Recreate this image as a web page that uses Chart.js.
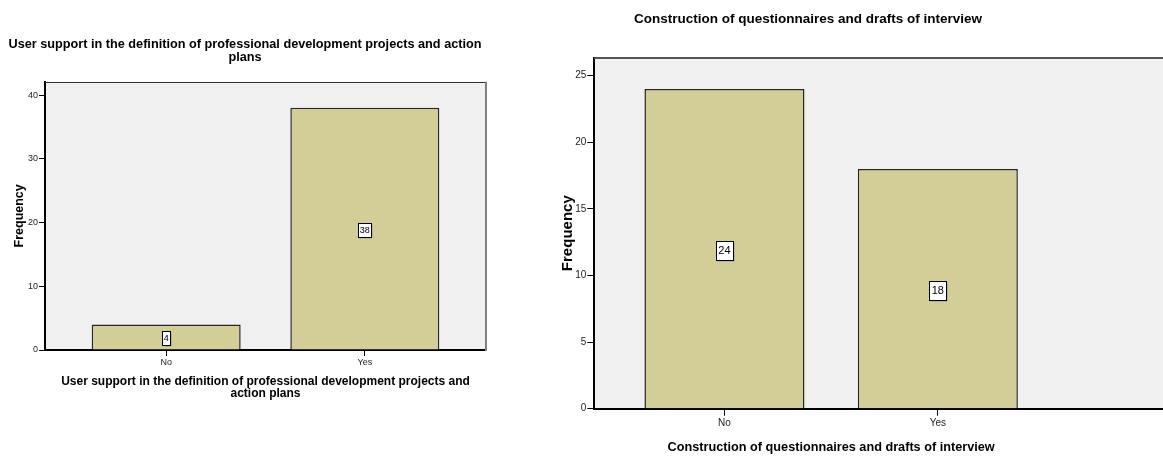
<!DOCTYPE html>
<html>
<head>
<meta charset="utf-8">
<script src="https://cdn.jsdelivr.net/npm/chart.js@4/dist/chart.umd.min.js"></script>
<style>
  html, body { margin: 0; padding: 0; background: #fff; overflow: hidden; }
  body { width: 1163px; height: 457px; position: relative; }
  canvas { position: absolute; top: 0; }
  #chartLeft { left: 0; }
  #chartRight { left: 548px; }
</style>
</head>
<body>
<canvas id="chartLeft" width="500" height="457"></canvas>
<canvas id="chartRight" width="615" height="457"></canvas>
<script>
// data
const categories = ['No', 'Yes'];
const supportCounts = [4, 38];
const questionnaireCounts = [24, 18];
const supportTicks = [0, 10, 20, 30, 40];
const questionnaireTicks = [0, 5, 10, 15, 20, 25];
const supportTitle = ['User support in the definition of professional development projects and action', 'plans'];
const supportAxisTitle = ['User support in the definition of professional development projects and', 'action plans'];
const questionnaireTitle = 'Construction of questionnaires and drafts of interview';
const yAxisTitle = 'Frequency';

const FONT = 'Arial, "Liberation Sans", sans-serif';
const BAR_FILL = '#d3ce97';
const PLOT_BG = '#f0f0f0';

// grey plot background + top / right frame lines
const plotFrame = {
    id: 'plotFrame',
    beforeDraw(chart, args, o) {
        const { ctx, chartArea: a } = chart;
        const right = o.bleed ? chart.width : a.right;
        ctx.save();
        ctx.fillStyle = PLOT_BG;
        ctx.fillRect(a.left, a.top, right - a.left, a.bottom - a.top);
        ctx.restore();
    },
    afterDraw(chart, args, o) {
        const { ctx, chartArea: a } = chart;
        const right = o.bleed ? chart.width : a.right;
        const top = Math.round(a.top) + (o.topWidth % 2 ? 0.5 : 0);
        ctx.save();
        ctx.strokeStyle = o.topColor;
        ctx.lineWidth = o.topWidth;
        ctx.beginPath();
        ctx.moveTo(a.left, top);
        ctx.lineTo(right, top);
        ctx.stroke();
        if (o.bleed) {
            // x axis line runs on to the edge of the picture
            ctx.strokeStyle = '#000';
            ctx.lineWidth = 2;
            ctx.beginPath();
            ctx.moveTo(a.right - 1, Math.round(a.bottom));
            ctx.lineTo(right, Math.round(a.bottom));
            ctx.stroke();
        } else {
            const x = Math.round(a.right);
            ctx.strokeStyle = o.sideColor;
            ctx.lineWidth = o.sideWidth;
            ctx.beginPath();
            ctx.moveTo(x, a.top);
            ctx.lineTo(x, a.bottom + 1);
            ctx.stroke();
        }
        ctx.restore();
    }
};

// white value boxes in the middle of each bar
const valueBoxes = {
    id: 'valueBoxes',
    afterDatasetsDraw(chart, args, o) {
        const ctx = chart.ctx;
        const meta = chart.getDatasetMeta(0);
        const values = chart.data.datasets[0].data;
        ctx.save();
        ctx.font = o.size + 'px ' + FONT;
        ctx.textAlign = 'center';
        ctx.textBaseline = 'middle';
        meta.data.forEach((bar, i) => {
            const text = String(values[i].y);
            const w = Math.round(ctx.measureText(text).width + o.padX * 2);
            const h = o.height;
            const cx = bar.x;
            const cy = (bar.y + bar.base) / 2 + o.dy;
            const x = Math.round(cx - w / 2) + 0.5;
            const y = Math.round(cy - h / 2) + 0.5;
            ctx.fillStyle = '#9a9a9a';
            ctx.fillRect(x + 1, y + 1, w, h);
            ctx.fillStyle = '#fff';
            ctx.fillRect(x, y, w, h);
            ctx.strokeStyle = '#000';
            ctx.lineWidth = 1;
            ctx.strokeRect(x, y, w, h);
            ctx.fillStyle = '#000';
            ctx.fillText(text, cx, cy + 0.5);
        });
        ctx.restore();
    }
};

function barChart(canvasId, s) {
    return new Chart(document.getElementById(canvasId), {
        type: 'bar',
        data: {
            datasets: [{
                data: s.counts.map((v, i) => ({ x: i, y: v })),
                backgroundColor: BAR_FILL,
                borderColor: '#262626',
                borderWidth: 1.5,
                barPercentage: 0.75,
                categoryPercentage: 1
            }]
        },
        plugins: [plotFrame, valueBoxes],
        options: {
            responsive: false,
            animation: false,
            layout: { padding: s.padding },
            plugins: {
                legend: { display: false },
                tooltip: { enabled: false },
                title: {
                    display: true,
                    text: s.title,
                    color: '#000',
                    font: { family: FONT, size: s.titleSize, weight: 'bold', lineHeight: s.titleLH },
                    padding: s.titlePad
                },
                plotFrame: s.frame,
                valueBoxes: s.boxes
            },
            scales: {
                x: {
                    type: 'linear',
                    min: -0.61,
                    max: 1.61,
                    offset: false,
                    z: 1,
                    afterBuildTicks: sc => { sc.ticks = categories.map((c, i) => ({ value: i })); },
                    afterFit: sc => { sc.height = s.xHeight; },
                    grid: { offset: false, drawOnChartArea: false, drawTicks: true, tickLength: s.tickLen, tickColor: '#000', tickWidth: 1 },
                    border: { display: true, color: '#000', width: 2 },
                    ticks: {
                        callback: v => categories[v],
                        color: '#222',
                        font: { family: FONT, size: s.tickSize },
                        padding: s.xTickPad,
                        autoSkip: false,
                        maxRotation: 0
                    },
                    title: {
                        display: true,
                        text: s.xTitle,
                        color: '#000',
                        font: { family: FONT, size: s.xTitleSize, weight: 'bold', lineHeight: s.xTitleLH },
                        padding: { top: 0, bottom: s.xTitlePadB }
                    }
                },
                y: {
                    min: 0,
                    max: s.yMax,
                    afterBuildTicks: sc => { sc.ticks = s.yTicks.map(v => ({ value: v })); },
                    afterFit: sc => { sc.width = s.yWidth; },
                    grid: { drawOnChartArea: false, drawTicks: true, tickLength: s.tickLen, tickColor: '#000', tickWidth: 1 },
                    border: { display: true, color: '#000', width: 2 },
                    ticks: {
                        color: '#222',
                        font: { family: FONT, size: s.tickSize },
                        padding: 1,
                        autoSkip: false
                    },
                    title: {
                        display: true,
                        text: yAxisTitle,
                        color: '#000',
                        font: { family: FONT, size: s.yTitleSize, weight: 'bold', lineHeight: s.yTitleLH },
                        padding: { top: s.yTitlePadT, bottom: 0 }
                    }
                }
            }
        }
    });
}

barChart('chartLeft', {
    counts: supportCounts,
    yTicks: supportTicks,
    yMax: 42.1,
    padding: { left: 4, right: 14, top: 0, bottom: 0 },
    title: supportTitle,
    titleSize: 12.7, titleLH: '13px', titlePad: { top: 37.7, bottom: 18 },
    xTitle: supportAxisTitle,
    xTitleSize: 12, xTitleLH: '12px', xTitlePadB: 57.8,
    xHeight: 107,
    tickLen: 6, tickSize: 9, xTickPad: 1,
    yWidth: 41, yTitleSize: 12.5, yTitleLH: '14px', yTitlePadT: 9,
    frame: { bleed: false, topColor: '#333', topWidth: 1, sideColor: '#808080', sideWidth: 2 },
    boxes: { size: 9, padX: 1.5, height: 14, dy: 1 }
});

barChart('chartRight', {
    counts: questionnaireCounts,
    yTicks: questionnaireTicks,
    yMax: 26.35,
    padding: { left: 0, right: 95, top: 0, bottom: 0 },
    title: questionnaireTitle,
    titleSize: 13.5, titleLH: '16px', titlePad: { top: 11, bottom: 30.7 },
    xTitle: questionnaireTitle,
    xTitleSize: 12.7, xTitleLH: '15px', xTitlePadB: 2,
    xHeight: 48.3,
    tickLen: 7, tickSize: 10, xTickPad: 2,
    yWidth: 46.3, yTitleSize: 15, yTitleLH: '17px', yTitlePadT: 11.5,
    frame: { bleed: true, topColor: '#555', topWidth: 2 },
    boxes: { size: 11, padX: 2.5, height: 19, dy: 1.5 }
});
</script>
</body>
</html>
